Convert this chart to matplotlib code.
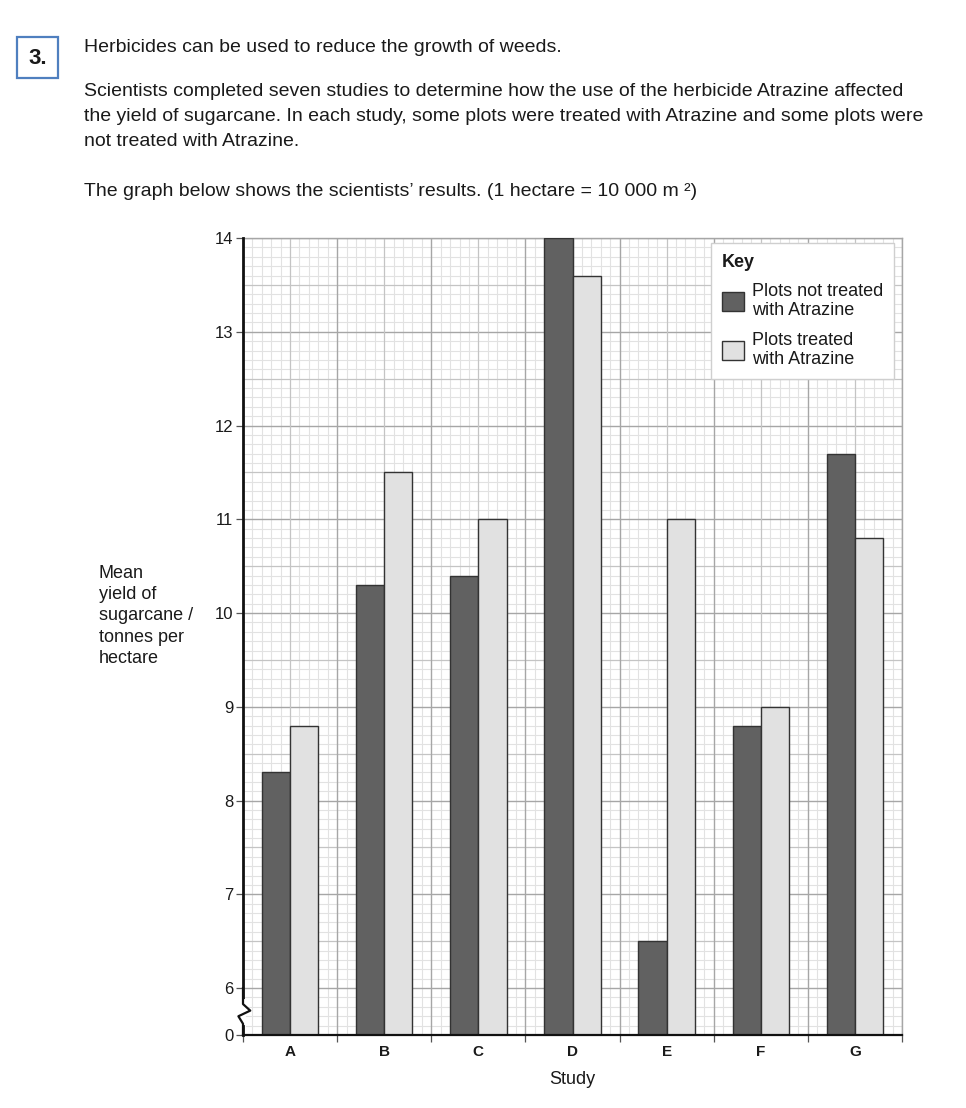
import matplotlib
matplotlib.use("Agg")
import matplotlib.pyplot as plt
import numpy as np
from matplotlib.patches import Rectangle
from matplotlib.lines import Line2D

plt.rcParams['font.family'] = ['Liberation Sans', 'DejaVu Sans']

studies = ["A", "B", "C", "D", "E", "F", "G"]
not_treated = [8.3, 10.3, 10.4, 14.0, 6.5, 8.8, 11.7]
treated = [8.8, 11.5, 11.0, 13.6, 11.0, 9.0, 10.8]
ytick_vals = [5.5, 6, 7, 8, 9, 10, 11, 12, 13, 14]
ytick_labels = ["0", "6", "7", "8", "9", "10", "11", "12", "13", "14"]

TXT = '#1a1a1a'
W, H = 966, 1108
fig = plt.figure(figsize=(W / 100, H / 100), dpi=100)

def fx(px):
    return px / W

def fy(py):
    return 1 - py / H

# Header
fig.patches.append(Rectangle((fx(17), fy(78)), fx(41), 41 / H, transform=fig.transFigure,
                             fill=False, edgecolor='#4f7fbf', linewidth=1.6))
fig.text(fx(37.5), fy(59), "3.", ha='center', va='center', fontsize=16, fontweight='bold', color=TXT)
HS = 14
fig.text(fx(84), fy(47), "Herbicides can be used to reduce the growth of weeds.", fontsize=HS,
         va='center', color=TXT)
fig.text(fx(84), fy(92), "Scientists completed seven studies to determine how the use of the herbicide Atrazine affected",
         fontsize=HS, va='center', color=TXT)
fig.text(fx(84), fy(117), "the yield of sugarcane. In each study, some plots were treated with Atrazine and some plots were",
         fontsize=HS, va='center', color=TXT)
fig.text(fx(84), fy(142), "not treated with Atrazine.", fontsize=HS, va='center', color=TXT)
fig.text(fx(84), fy(192), "The graph below shows the scientists\u2019 results. (1 hectare = 10 000 m \u00b2)",
         fontsize=HS, va='center', color=TXT)

# Axes
ax = fig.add_axes([fx(243), fy(1035), fx(902) - fx(243), (1035 - 238) / H])
n = len(studies)
x = np.arange(n)
ax.set_xlim(-0.5, n - 0.5)
ax.set_ylim(5.5, 14)

# graph paper grid
for v in np.arange(55, 141):
    yv = v / 10
    if v % 10 == 0:
        c, lw = '#a6a6a6', 1.0
    elif v % 5 == 0:
        c, lw = '#c4c4c4', 0.9
    else:
        c, lw = '#e2e2e2', 0.8
    ax.axhline(yv, color=c, lw=lw, zorder=1 if v % 5 else 1.5)
for k in range(0, n * 10 + 1):
    xv = -0.5 + k / 10
    if k % 10 == 0:
        c, lw = '#a6a6a6', 1.0
    elif k % 5 == 0:
        c, lw = '#c4c4c4', 0.9
    else:
        c, lw = '#e2e2e2', 0.8
    ax.axvline(xv, color=c, lw=lw, zorder=1 if k % 5 else 1.5)

bw = 0.3
b1 = ax.bar(x - bw / 2, [v - 5.5 for v in not_treated], bw, bottom=5.5, color='#616161',
            edgecolor='#333333', linewidth=1.0, zorder=3, label="Plots not treated\nwith Atrazine")
b2 = ax.bar(x + bw / 2, [v - 5.5 for v in treated], bw, bottom=5.5, color='#e1e1e1',
            edgecolor='#333333', linewidth=1.0, zorder=3, label="Plots treated\nwith Atrazine")

for s in ['top', 'right']:
    ax.spines[s].set_color('#a6a6a6')
    ax.spines[s].set_linewidth(1.0)
ax.spines['left'].set_color('#111111')
ax.spines['left'].set_linewidth(2.0)
ax.spines['bottom'].set_color('#111111')
ax.spines['bottom'].set_linewidth(1.6)
ax.spines['left'].set_zorder(5)
ax.spines['bottom'].set_zorder(5)

ax.set_yticks(ytick_vals)
ax.set_yticklabels(ytick_labels, fontsize=12, color=TXT)
ax.tick_params(axis='y', direction='out', length=5, width=0.9, color='#555555', pad=2)

ax.set_xticks(x)
ax.set_xticklabels(studies, fontsize=11, fontweight='bold', color=TXT)
ax.tick_params(axis='x', which='major', length=0, pad=7)
ax.set_xticks(np.arange(-0.5, n, 1.0), minor=True)
ax.tick_params(axis='x', which='minor', direction='out', length=5, width=0.9, color='#555555')
ax.set_xlabel("Study", fontsize=13, color=TXT, labelpad=9)

# Axis break zigzag on the y spine
zig = Line2D([0, 0, 0.011, -0.007, 0, 0], [6.0, 5.83, 5.76, 5.70, 5.62, 5.5], transform=ax.get_yaxis_transform(),
             color='#111111', lw=1.6, zorder=6, clip_on=False)
ax.add_line(zig)
ax.add_line(Line2D([0, 0], [5.86, 5.60], transform=ax.get_yaxis_transform(), color='white', lw=3.5,
                   zorder=5.5, clip_on=False))
ax.spines['left'].set_bounds(5.86, 14)
ax.add_line(Line2D([0, 0], [5.5, 5.6], transform=ax.get_yaxis_transform(), color='#111111', lw=2.0,
                   zorder=6, clip_on=False))

# Y label
fig.text(fx(99), fy(616), "Mean\nyield of\nsugarcane /\ntonnes per\nhectare", fontsize=13, color=TXT,
         ha='left', va='center', linespacing=1.33)

# Legend
leg = ax.legend(handles=[b1, b2], title="Key", loc='upper right', bbox_to_anchor=(0.988, 0.994),
                fontsize=13, title_fontproperties={'weight': 'bold', 'size': 13}, alignment='left',
                frameon=True, fancybox=False, edgecolor='#cfcfcf', framealpha=1.0,
                handlelength=1.2, handleheight=1.25, handletextpad=0.45, labelspacing=0.7,
                borderpad=0.6, borderaxespad=0)
leg.set_zorder(10)
for t in leg.get_texts():
    t.set_color(TXT)
    t.set_linespacing(1.15)
leg.get_title().set_color(TXT)

fig.savefig("out.png", dpi=100)
